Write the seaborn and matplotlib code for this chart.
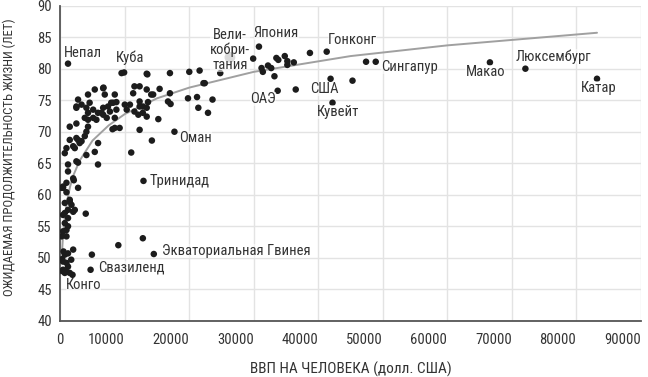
import numpy as np
import pandas as pd
import matplotlib
matplotlib.use("Agg")
import matplotlib.pyplot as plt
from matplotlib import font_manager
import seaborn as sns

# GDP per capita (USD) and life expectancy (years)
gdp = [
    1200, 9500, 9900, 17700, 12900, 14500, 12800, 9000, 4700, 4900, 3950,
    30800, 41300, 38700, 47400, 48900, 41900, 45300, 42200, 33700, 36500,
    66600, 72100, 83200,
    20000, 21600, 22400, 23600, 21200, 19800, 21400, 22900, 24800, 17000,
    13400, 13500, 29900, 31200, 31400, 32200, 32700, 33200, 33500, 33800,
    34800, 35200, 35200, 36200, 22200,
    12300, 11500, 11300, 14100, 13400, 14400, 15400, 17000, 12300, 12800,
    13400, 15200, 16700, 17100, 13600, 12300, 14200, 11000, 10000, 10800,
    10300, 11500, 12300, 12800, 13400, 12100, 8450, 9200, 8100,
    2760, 4300, 5350, 6700, 6900, 8450, 2500, 3300, 4050, 4550, 4300, 5100,
    5850, 6650, 7400, 8200, 8700, 7700, 6400, 3800, 4300, 5100, 5600, 4300,
    4050, 3800, 2760, 3300, 1470, 2500, 2000, 960, 1470, 2500, 6650, 7200,
    8450, 7900, 8700, 2500, 6650,
    3000, 2250, 700, 4050, 5350, 2500, 2760, 1200, 5850, 1200, 2000, 960,
    430, 2760, 190, 960, 2100, 1470, 700, 1740, 1200, 2250, 700, 1200, 700,
    1200, 960, 430, 960, 2000, 1200, 700, 430, 960, 1200, 430, 960, 1470,
    700, 5860, 300, 300, 500, 1700, 1900, 200, 430, 2000, 1470, 430,
]
life = [
    80.8, 79.3, 79.4, 70.0, 62.2, 50.6, 53.1, 52.0, 48.1, 50.5, 57.0,
    83.5, 82.7, 82.5, 81.1, 81.1, 78.4, 78.1, 74.6, 76.5, 76.7,
    81.0, 80.0, 78.4,
    79.5, 79.7, 77.7, 75.1, 75.5, 75.3, 73.8, 73.0, 79.3, 79.3,
    79.2, 79.1, 81.6, 80.1, 79.5, 80.5, 80.1, 78.8, 81.7, 81.4,
    82.0, 81.2, 80.6, 81.0, 77.7,
    77.2, 77.2, 76.1, 75.9, 76.7, 75.9, 76.8, 76.1, 74.8, 74.0,
    72.4, 72.0, 74.8, 74.4, 74.7, 70.3, 68.6, 66.7, 74.3, 74.3,
    73.5, 73.2, 74.0, 73.0, 73.8, 72.7, 70.6, 70.6, 70.4,
    75.1, 75.9, 76.7, 77.0, 75.9, 75.9, 74.0, 74.3, 73.8, 74.6, 73.0, 73.5,
    73.0, 73.8, 74.0, 74.6, 74.7, 73.2, 73.0, 72.2, 71.9, 72.2, 71.9, 70.8,
    70.0, 69.3, 68.7, 68.5, 68.7, 69.0, 67.7, 67.4, 70.8, 71.3, 72.7, 72.2,
    72.2, 74.6, 73.5, 73.8, 76.9,
    68.2, 67.4, 66.6, 66.3, 66.8, 65.3, 65.1, 64.8, 64.8, 63.7, 62.6, 61.9,
    61.1, 61.1, 61.1, 60.4, 62.3, 58.9, 58.7, 58.4, 57.6, 57.6, 57.1, 56.3, 55.5,
    55.0, 54.4, 54.2, 53.4, 51.3, 50.7, 50.5, 49.4, 49.2, 48.6, 48.1, 47.8, 47.6,
    47.6, 68.2, 47.9, 49.8, 51.0, 49.7, 47.3, 53.4, 56.8, 57.3, 59.2, 61.3,
]

# grey highlighted point (UK)
uk_gdp = [26300]
uk_life = [81.8]

# trend curve
trend_gdp = [300, 400, 600, 1000, 1500, 2000, 3000, 5000, 7500, 10000,
             15000, 20000, 30000, 45000, 60000, 83200]
trend_life = [51.3, 53.1, 55.6, 58.7, 61.2, 63.0, 65.4, 68.6, 71.0, 72.8,
              75.3, 77.0, 79.5, 82.0, 83.7, 85.7]

# annotations: text and where it sits
labels = ["Непал", "Куба", "Вели-\nкобри-\nтания", "Япония", "Гонконг",
          "Сингапур", "ОАЭ", "США", "Кувейт", "Макао", "Люксембург", "Катар",
          "Оман", "Тринидад", "Экваториальная Гвинея", "Свазиленд", "Конго"]
label_x = [550, 8600, 26300, 30000, 41500, 49700, 29400, 38700, 39800, 62800,
           70600, 80700, 18500, 13900, 15700, 5800, 850]
label_y = [82.5, 81.7, 83.0, 85.7, 84.6, 80.3, 75.2, 76.7, 73.2, 79.5,
           81.9, 77.0, 69.0, 62.2, 51.0, 48.4, 45.7]

x_ticks = list(range(0, 90001, 10000))
y_ticks = list(range(40, 91, 5))

df = pd.DataFrame({"gdp": gdp, "life": life})
trend = pd.DataFrame({"gdp": trend_gdp, "life": trend_life})

# prefer a narrow face if one is installed
names = {f.name for f in font_manager.fontManager.ttflist}
narrow = "Roboto"
for cand in ["Roboto Condensed", "Liberation Sans Narrow", "DejaVu Sans Condensed"]:
    if cand in names:
        narrow = cand
        break

sns.set_style("white")
plt.rcParams["font.family"] = [narrow, "DejaVu Sans"]
fs = 10 if narrow != "Roboto" else 9.3

fig, ax = plt.subplots(figsize=(6.48, 3.77), dpi=100)
fig.subplots_adjust(left=0.093, right=0.989, bottom=0.149, top=0.985)

sns.lineplot(data=trend, x="gdp", y="life", color="#a0a0a0", lw=1.4,
             zorder=2, ax=ax)
sns.scatterplot(data=df, x="gdp", y="life", color="#1c1c1c", s=22,
                edgecolor="none", zorder=3, ax=ax)
sns.scatterplot(x=uk_gdp, y=uk_life, color="#b0b0b0", s=60,
                edgecolor="none", zorder=3, ax=ax)

for t, x, y in zip(labels, label_x, label_y):
    ha = "center" if "\n" in t else "left"
    ax.text(x, y, t, ha=ha, va="center", fontsize=fs + 0.5, color="#333333",
            linespacing=1.05, zorder=4,
            bbox=dict(facecolor="white", alpha=0.55, edgecolor="none", pad=0))

ax.set_xlim(0, 90000)
ax.set_ylim(40, 90)
ax.set_xticks(x_ticks)
ax.set_xticklabels([str(v) for v in x_ticks], ha="right")
ax.set_yticks(y_ticks)
ax.grid(True, color="#e3e3e3", lw=1)
ax.set_axisbelow(True)
for s in ["top", "right"]:
    ax.spines[s].set_visible(False)
for s in ["left", "bottom"]:
    ax.spines[s].set_color("#555555")
    ax.spines[s].set_linewidth(1.3)
ax.tick_params(axis="x", length=0, pad=9, labelsize=fs + 0.5, labelcolor="#333333")
ax.tick_params(axis="y", length=0, pad=6, labelsize=fs + 0.5, labelcolor="#333333")
ax.get_xticklabels()[0].set_horizontalalignment("center")
ax.set_xlabel("ВВП НА ЧЕЛОВЕКА (долл. США)", fontsize=fs + 1, color="#333333",
              labelpad=10)
ax.set_ylabel("ОЖИДАЕМАЯ ПРОДОЛЖИТЕЛЬНОСТЬ ЖИЗНИ (ЛЕТ)", fontsize=fs - 0.8,
              color="#333333")
ax.yaxis.set_label_coords(-0.077, 0.52)

fig.savefig("out.png", dpi=100)
